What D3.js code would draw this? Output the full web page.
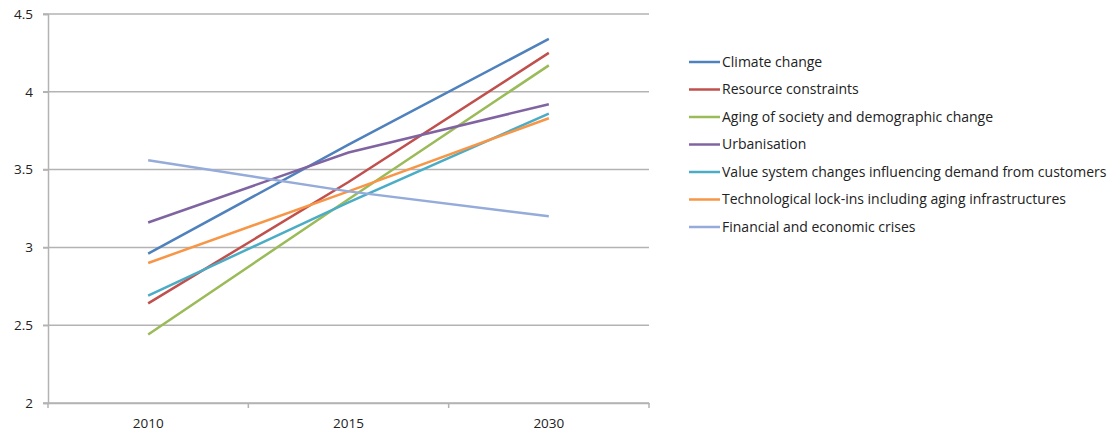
<!DOCTYPE html>
<html><head><meta charset="utf-8">
<script src="https://cdn.jsdelivr.net/npm/d3@7"></script>
<style>
body{margin:0;background:#fff;}
text{font-family:"Open Sans","Noto Sans",sans-serif;fill:#222;}
</style></head>
<body><svg id="c" width="1111" height="435"></svg>
<script>
const categories = ["2010", "2015", "2030"];
const seriesNames = [
  "Climate change",
  "Resource constraints",
  "Aging of society and demographic change",
  "Urbanisation",
  "Value system changes influencing demand from customers",
  "Technological lock-ins including aging infrastructures",
  "Financial and economic crises"
];
const climate = [2.96, 3.66, 4.34];
const resource = [2.64, 3.42, 4.25];
const aging = [2.44, 3.31, 4.17];
const urban = [3.16, 3.61, 3.92];
const valueSys = [2.69, 3.29, 3.86];
const techLock = [2.90, 3.36, 3.83];
const financial = [3.56, 3.36, 3.20];
const yTicks = [2, 2.5, 3, 3.5, 4, 4.5];
const colors = ["#4F81BD", "#C0504D", "#9BBB59", "#8064A2", "#4BACC6", "#F79646", "#95ABDA"];

const seriesValues = [climate, resource, aging, urban, valueSys, techLock, financial];
const svg = d3.select("#c");
const L = 48, R = 649, T = 14, B = 403;

const x = d3.scaleBand().domain(categories).range([L, R]);
const y = d3.scaleLinear().domain([2, 4.5]).range([B, T]);

// gridlines
svg.append("g").selectAll("line").data(yTicks).join("line")
  .attr("x1", L - 5).attr("x2", R).attr("y1", d => y(d)).attr("y2", d => y(d))
  .attr("stroke", "#b3b3b3").attr("stroke-width", 1.5);

// y axis
const ya = svg.append("g").attr("transform", `translate(${L},0)`)
  .call(d3.axisLeft(y).tickValues(yTicks).tickSize(5).tickPadding(10).tickFormat(d => String(d)));
ya.select(".domain").attr("stroke", "#b3b3b3").attr("stroke-width", 1.5);
ya.selectAll(".tick line").attr("stroke", "#b3b3b3").attr("stroke-width", 1.5);
ya.selectAll("text").style("font-size", "13.5px").attr("fill", "#222");

// x axis
const xa = svg.append("g").attr("transform", `translate(0,${B})`)
  .call(d3.axisBottom(x).tickSize(0).tickPadding(15));
xa.select(".domain").attr("stroke", "#b3b3b3").attr("stroke-width", 1.5);
xa.selectAll("text").style("font-size", "13.5px").attr("fill", "#222");
const bounds = categories.map(c => x(c)).concat([R]);
xa.selectAll(".bt").data(bounds).join("line").attr("class", "bt")
  .attr("x1", d => d).attr("x2", d => d).attr("y1", 0).attr("y2", 5)
  .attr("stroke", "#b3b3b3").attr("stroke-width", 1.5);

// lines
const line = d3.line().x((d, i) => x(categories[i]) + x.bandwidth() / 2).y(d => y(d));
svg.append("g").selectAll("path").data(seriesValues).join("path")
  .attr("d", d => line(d)).attr("fill", "none")
  .attr("stroke", (d, i) => colors[i]).attr("stroke-width", 2.5);

// legend
const lg = svg.append("g").attr("transform", "translate(689,62)");
const items = lg.selectAll("g").data(seriesNames).join("g")
  .attr("transform", (d, i) => `translate(0,${i * 27.5})`);
items.append("line").attr("x1", 0).attr("x2", 31).attr("y1", 0).attr("y2", 0)
  .attr("stroke", (d, i) => colors[i]).attr("stroke-width", 2.5);
items.append("text").attr("x", 33).attr("y", 0).attr("dy", "0.35em")
  .style("font-size", "14px").text(d => d);
</script></body></html>
